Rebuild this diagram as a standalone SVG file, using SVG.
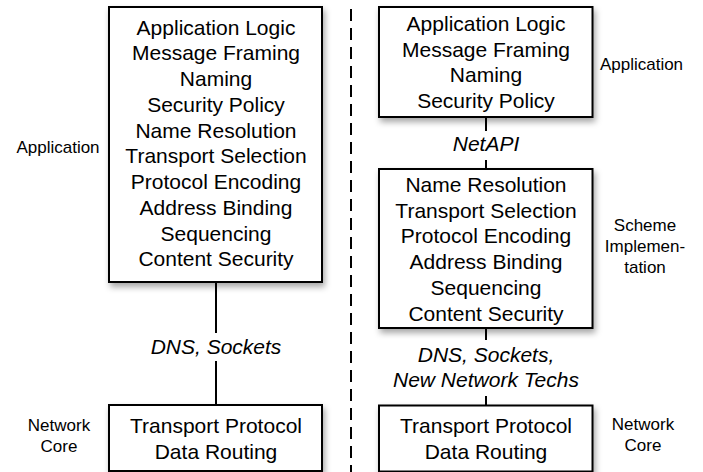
<svg xmlns="http://www.w3.org/2000/svg" width="703" height="472" viewBox="0 0 703 472">
  <defs>
    <filter id="shadow" x="-10%" y="-10%" width="130%" height="130%">
      <feDropShadow dx="2" dy="4" stdDeviation="3" flood-color="#000" flood-opacity="0.35"/>
    </filter>
  </defs>
  <style>
    .box { fill: #fff; stroke: #000; stroke-width: 2; filter: url(#shadow); }
    .t { font-family: "Liberation Sans", Arial, Helvetica, sans-serif; font-size: 21px; fill: #000; text-anchor: middle; }
    .it { font-style: italic; }
    .side { font-family: "Liberation Sans", Arial, Helvetica, sans-serif; font-size: 17px; fill: #000; text-anchor: middle; }
    .link { stroke: #000; stroke-width: 2; fill: none; }
    .divider { stroke: #000; stroke-width: 2; stroke-dasharray: 12 7; fill: none; }
  </style>

  <!-- vertical divider between the two stacks -->
  <line class="divider" x1="351" y1="9" x2="351" y2="472"/>

  <!-- connectors -->
  <g id="connectors">
    <line class="link" x1="216" y1="282" x2="216" y2="333"/>
    <line class="link" x1="216" y1="361" x2="216" y2="405"/>
    <line class="link" x1="486" y1="117" x2="486" y2="131"/>
    <line class="link" x1="486" y1="160" x2="486" y2="169"/>
    <line class="link" x1="486" y1="328" x2="486" y2="340"/>
    <line class="link" x1="486" y1="396" x2="486" y2="406"/>
    <text class="t it" x="216" y="354">DNS, Sockets</text>
    <text class="t it" x="486" y="151">NetAPI</text>
    <text class="t it" x="486" y="362">DNS, Sockets,</text>
    <text class="t it" x="486" y="387">New Network Techs</text>
  </g>

  <!-- left stack: monolithic application -->
  <g id="left-app">
    <rect class="box" x="109" y="7" width="213" height="275"/>
    <text class="t" x="216" y="34.5">Application Logic</text>
    <text class="t" x="216" y="60.3">Message Framing</text>
    <text class="t" x="216" y="86">Naming</text>
    <text class="t" x="216" y="111.8">Security Policy</text>
    <text class="t" x="216" y="137.5">Name Resolution</text>
    <text class="t" x="216" y="163.3">Transport Selection</text>
    <text class="t" x="216" y="189">Protocol Encoding</text>
    <text class="t" x="216" y="214.8">Address Binding</text>
    <text class="t" x="216" y="240.5">Sequencing</text>
    <text class="t" x="216" y="266.3">Content Security</text>
  </g>

  <g id="left-core">
    <rect class="box" x="109" y="405" width="213" height="66"/>
    <text class="t" x="216" y="433">Transport Protocol</text>
    <text class="t" x="216" y="458.5">Data Routing</text>
  </g>

  <!-- right stack: split application / scheme implementation -->
  <g id="right-app">
    <rect class="box" x="379" y="7" width="213.5" height="110"/>
    <text class="t" x="486" y="30.8">Application Logic</text>
    <text class="t" x="486" y="56.6">Message Framing</text>
    <text class="t" x="486" y="82.3">Naming</text>
    <text class="t" x="486" y="108">Security Policy</text>
  </g>

  <g id="right-scheme">
    <rect class="box" x="379" y="169" width="213.5" height="159"/>
    <text class="t" x="486" y="192">Name Resolution</text>
    <text class="t" x="486" y="217.7">Transport Selection</text>
    <text class="t" x="486" y="243.4">Protocol Encoding</text>
    <text class="t" x="486" y="269.1">Address Binding</text>
    <text class="t" x="486" y="294.8">Sequencing</text>
    <text class="t" x="486" y="320.5">Content Security</text>
  </g>

  <g id="right-core">
    <rect class="box" x="379" y="405.5" width="213.5" height="66"/>
    <text class="t" x="486" y="433">Transport Protocol</text>
    <text class="t" x="486" y="458.5">Data Routing</text>
  </g>

  <!-- layer labels -->
  <g id="label-left-application">
    <text class="side" x="58" y="153">Application</text>
  </g>
  <g id="label-left-core">
    <text class="side" x="59" y="431">Network</text>
    <text class="side" x="59" y="452">Core</text>
  </g>
  <g id="label-right-application">
    <text class="side" x="641.5" y="70">Application</text>
  </g>
  <g id="label-right-scheme">
    <text class="side" x="645" y="231">Scheme</text>
    <text class="side" x="645" y="252">Implemen-</text>
    <text class="side" x="645" y="273">tation</text>
  </g>
  <g id="label-right-core">
    <text class="side" x="643" y="430">Network</text>
    <text class="side" x="643" y="451">Core</text>
  </g>
</svg>
